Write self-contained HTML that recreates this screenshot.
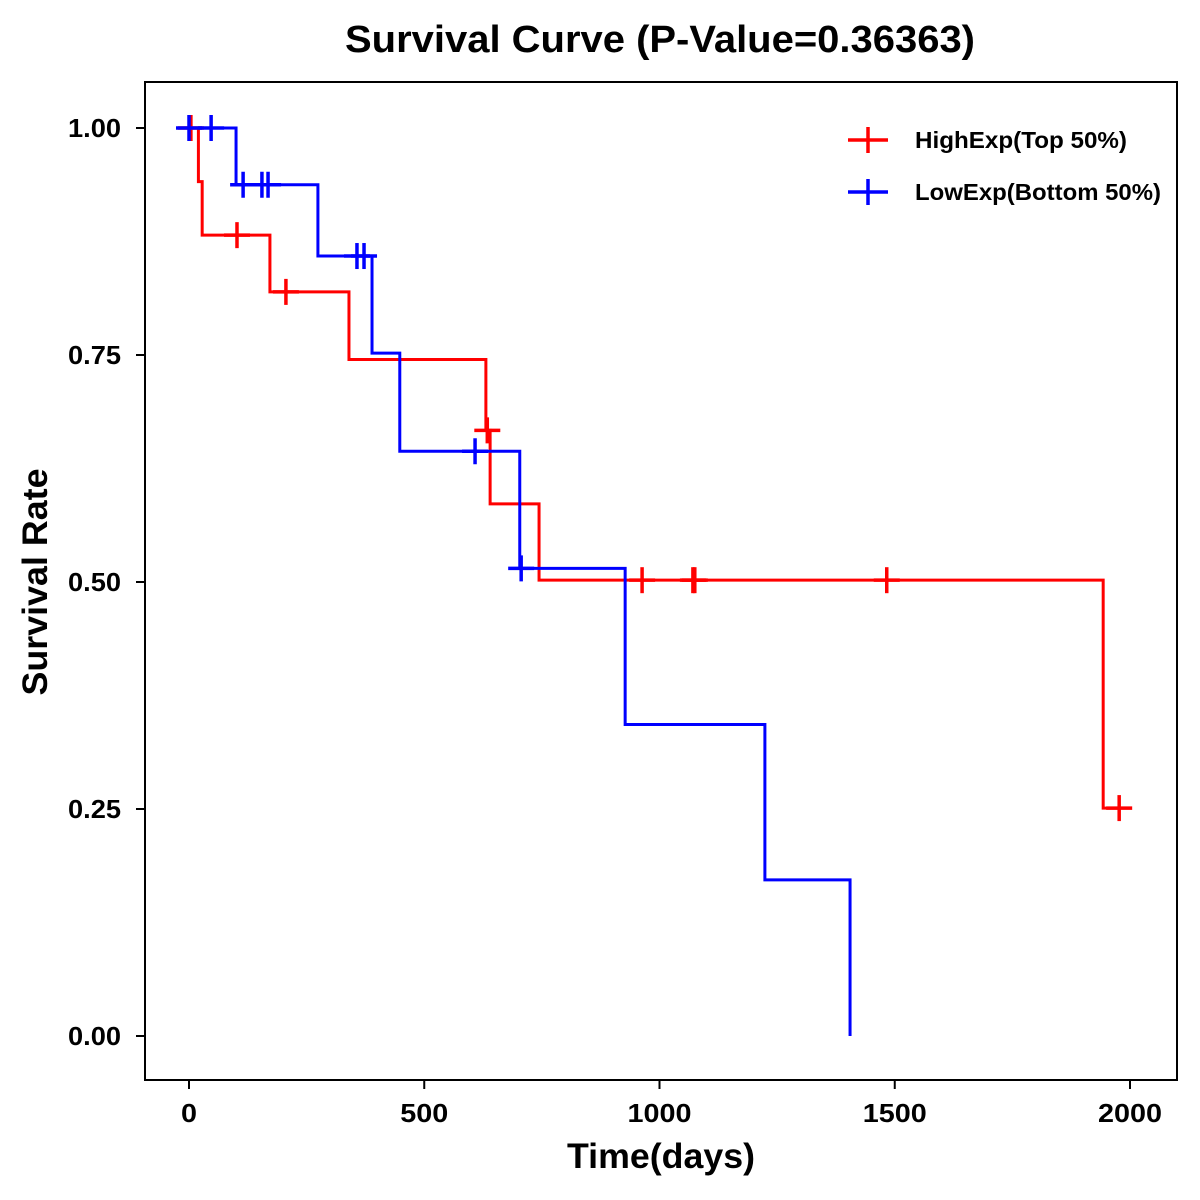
<!DOCTYPE html>
<html><head><meta charset="utf-8"><style>
body{margin:0;background:#fff}
svg{display:block;font-family:"Liberation Sans",Arial,sans-serif;font-weight:bold}
</style></head><body>
<svg id="chart" width="1200" height="1200" viewBox="0 0 1200 1200">
<rect x="0" y="0" width="1200" height="1200" fill="#fff"/>
<text x="660" y="52" font-size="38" text-anchor="middle" textLength="630" lengthAdjust="spacingAndGlyphs">Survival Curve (P-Value=0.36363)</text>
<rect x="145" y="82" width="1032" height="998" fill="none" stroke="#000" stroke-width="2"/>
<g id="axes"></g>
<g id="series"></g>
<text x="661" y="1168" font-size="35" text-anchor="middle" textLength="188" lengthAdjust="spacingAndGlyphs">Time(days)</text>
<text transform="translate(47,582) rotate(-90)" font-size="35" text-anchor="middle" textLength="227" lengthAdjust="spacingAndGlyphs">Survival Rate</text>
<g>
<g>
<line x1="848" y1="140" x2="888" y2="140" stroke="#f00" stroke-width="3.5"/><line x1="868" y1="127" x2="868" y2="153" stroke="#f00" stroke-width="3.5"/>
<text x="915" y="148" font-size="23" textLength="212" lengthAdjust="spacingAndGlyphs">HighExp(Top 50%)</text></g>
<g>
<line x1="848" y1="192" x2="888" y2="192" stroke="#00f" stroke-width="3.5"/><line x1="868" y1="179" x2="868" y2="205" stroke="#00f" stroke-width="3.5"/>
<text x="915" y="200" font-size="23" textLength="246" lengthAdjust="spacingAndGlyphs">LowExp(Bottom 50%)</text></g>
</g>
</svg>
<script>
const xTicks = [0, 500, 1000, 1500, 2000];
const yTicks = [0, 0.25, 0.5, 0.75, 1.0];
const yTickLabels = ["0.00", "0.25", "0.50", "0.75", "1.00"];
const highTimes = [0, 20, 28, 172, 340, 631, 640, 744, 1943, 1977];
const highSurv = [1.0, 0.941, 0.882, 0.8195, 0.745, 0.667, 0.586, 0.502, 0.251, 0.251];
const highCensorTimes = [4, 102, 206, 634, 963, 1071, 1075, 1483, 1977];
const lowTimes = [0, 100, 274, 389, 448, 703, 927, 1224, 1405, 1405];
const lowSurv = [1.0, 0.9375, 0.859, 0.752, 0.644, 0.515, 0.343, 0.172, 0.0, 0.0];
const lowCensorTimes = [0, 47, 115, 155, 168, 357, 372, 608, 706];

const NS = "http://www.w3.org/2000/svg";
function X(t){return 189 + t * (941/2000);}
function Y(s){return 1036 - s * 908;}
function mk(tag, attrs, parent){const e=document.createElementNS(NS,tag);for(const k in attrs)e.setAttribute(k,attrs[k]);parent.appendChild(e);return e;}
const axes = document.getElementById('axes');
xTicks.forEach(t=>{
  const l=mk('line',{x1:X(t),x2:X(t),y1:1080,y2:1089,stroke:'#000','stroke-width':2},axes);
  
  
  const s=String(t);
  const tx=mk('text',{x:X(t),y:1122,'font-size':26,'text-anchor':'middle',textLength:16*s.length,lengthAdjust:'spacingAndGlyphs'},axes);
  tx.textContent=s;
  
  
});
yTicks.forEach((v,i)=>{
  const l=mk('line',{x1:136,x2:145,y1:Y(v),y2:Y(v),stroke:'#000','stroke-width':2},axes);
  
  
  const tx=mk('text',{x:121,y:Y(v)+9,'font-size':26,'text-anchor':'end',textLength:53,lengthAdjust:'spacingAndGlyphs'},axes);
  tx.textContent=yTickLabels[i];
  
  
});
function survAt(times,surv,t){let s=surv[0];for(let i=0;i<times.length;i++){if(times[i]<=t)s=surv[i];}return s;}
const series=document.getElementById('series');
function draw(times,surv,cens,color,name){
  let d='M'+X(times[0])+','+Y(surv[0]);
  for(let i=1;i<times.length;i++){d+=' H'+X(times[i])+' V'+Y(surv[i]);}
  const p=mk('path',{d:d,fill:'none',stroke:color,'stroke-width':3},series);
  
  
  cens.forEach(t=>{
    const s=survAt(times,surv,t), cx=X(t), cy=Y(s);
    const g=mk('g',{},series);
    
    
    mk('line',{x1:cx-13,x2:cx+13,y1:cy,y2:cy,stroke:color,'stroke-width':3.5},g);
    mk('line',{x1:cx,x2:cx,y1:cy-13,y2:cy+13,stroke:color,'stroke-width':3.5},g);
  });
}
draw(highTimes,highSurv,highCensorTimes,'#f00','high-exp');
draw(lowTimes,lowSurv,lowCensorTimes,'#00f','low-exp');
</script>
</body></html>
